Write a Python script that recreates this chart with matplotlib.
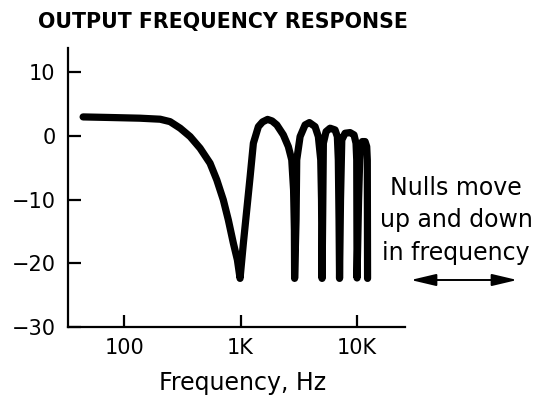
import matplotlib
matplotlib.use("Agg")
import matplotlib.pyplot as plt
from matplotlib.ticker import NullLocator

plt.rcParams['font.family'] = ['DejaVu Sans']

# Data: frequency (Hz) and level (dB)
freq_hz = [44.5, 75.8, 137, 204, 248, 303, 369, 449, 547, 625, 711, 785, 867, 939, 990,
           1057, 1130, 1208, 1288, 1422, 1545, 1706, 1863, 2046, 2329, 2571, 2750, 2851, 2897, 2910,
           2995, 3035, 3243, 3581, 3899, 4360, 4653, 4878, 4955, 5008,
           5085, 5139, 5420, 5867, 6475, 6775, 6905, 7005, 7074,
           7211, 7396, 7889, 8710, 9419, 9799, 9936, 10000,
           10304, 10617, 11098, 11722, 12106, 12246, 12310]
level_db = [2.98, 2.89, 2.78, 2.62, 2.24, 1.21, -0.11, -1.93, -4.29, -6.91, -10.05, -13.19, -16.84, -19.47, -22.37,
            -16.84, -11.62, -6.39, -1.15, 1.46, 2.2, 2.59, 2.35, 1.73, 0.16, -1.68, -3.77, -8.48, -14.76, -22.37,
            -13.19, -3.77, -0.11, 1.73, 2.09, 1.46, -0.11, -3.77, -10.05, -22.37,
            -10.05, -1.15, 0.68, 1.21, 0.94, -0.11, -3.77, -13.19, -22.37,
            -10.05, -0.63, 0.42, 0.52, 0.16, -1.15, -3.77, -22.3,
            -10.05, -1.68, -0.89, -0.89, -1.68, -3.77, -22.37]

x_ticks = [100, 1000, 10000]
x_tick_labels = ["100", "1K", "10K"]
y_ticks = [-30, -20, -10, 0, 10]

title = "OUTPUT FREQUENCY RESPONSE"
x_label = "Frequency, Hz"
note_lines = ["Nulls move", "up and down", "in frequency"]

W, H = 553, 400
fig = plt.figure(figsize=(W / 100, H / 100), dpi=100)
ax = fig.add_axes([68 / W, 1 - 327 / H, (405 - 68) / W, (327 - 48) / H])

ax.plot(freq_hz, level_db, color='black', lw=5.2,
        solid_joinstyle='round', solid_capstyle='round')

ax.set_xscale('log')
ax.set_xlim(33, 25800)
ax.set_ylim(-30, 13.8)
ax.set_xticks(x_ticks)
ax.set_xticklabels(x_tick_labels)
ax.xaxis.set_minor_locator(NullLocator())
ax.set_yticks(y_ticks)

for s in ['top', 'right']:
    ax.spines[s].set_visible(False)
for s in ['left', 'bottom']:
    ax.spines[s].set_linewidth(1.6)
    ax.spines[s].set_color('black')

ax.tick_params(axis='both', direction='in', length=9, width=1.6,
               labelsize=15, colors='black')
ax.tick_params(axis='y', pad=9)
ax.tick_params(axis='x', pad=8)

fig.text(38 / W, 1 - 28 / H, title, fontsize=14.8, fontweight='bold',
         ha='left', va='baseline')
fig.text(243 / W, 1 - 390 / H, x_label, fontsize=17, ha='center', va='baseline')

for i, line in enumerate(note_lines):
    fig.text(456 / W, 1 - (195 + 32.5 * i) / H, line, fontsize=17,
             ha='center', va='baseline')

fig.patches.append(matplotlib.patches.FancyArrowPatch(
    (408 / W, 1 - 280 / H), (520 / W, 1 - 280 / H),
    transform=fig.transFigure, arrowstyle='<|-|>,head_length=1.1,head_width=0.26',
    mutation_scale=14, color='black', lw=1.4))

fig.savefig('out.png', dpi=100)
